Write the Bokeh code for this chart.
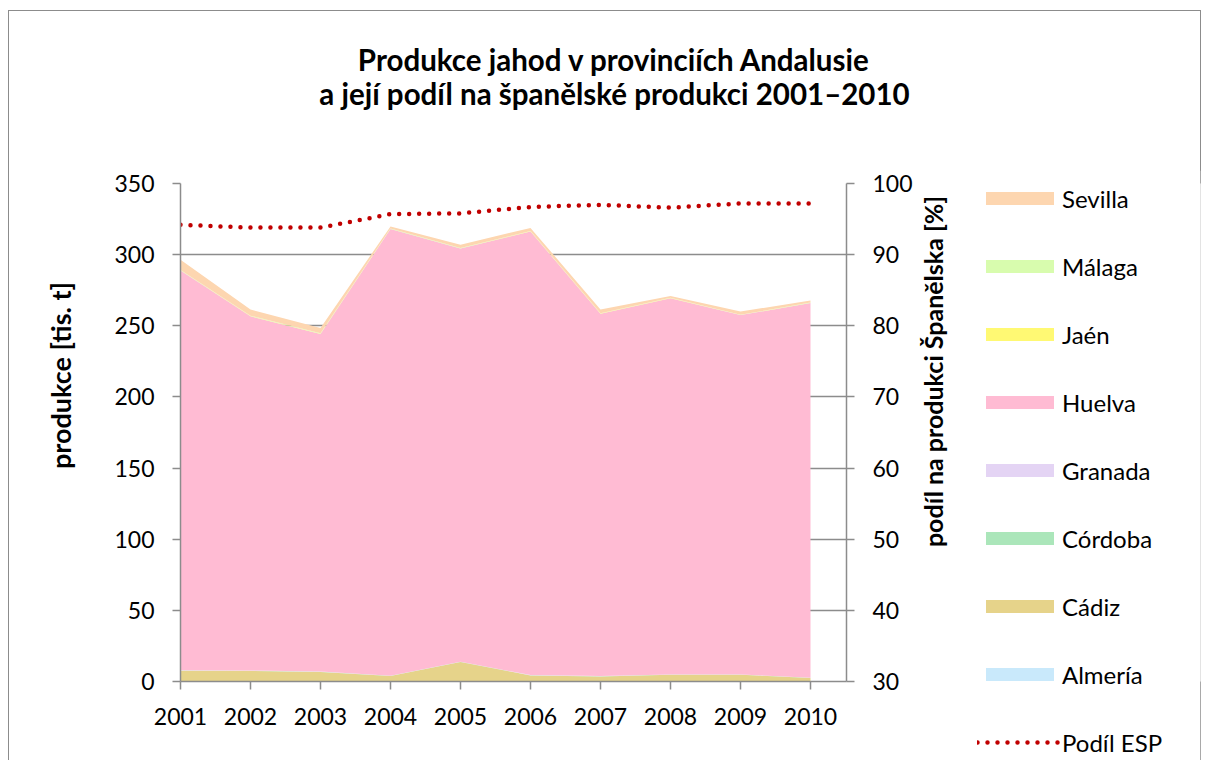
import math
from bokeh.plotting import figure
from bokeh.models import (Range1d, LinearAxis, FixedTicker, Legend, LegendItem,
                          Label, ColumnDataSource)
from bokeh.layouts import column, row
from bokeh.embed import file_html
from bokeh.resources import INLINE

# ---- data ----
years = [2001, 2002, 2003, 2004, 2005, 2006, 2007, 2008, 2009, 2010]
almeria = [0.2, 0.2, 0.2, 0.1, 0.1, 0.1, 0.1, 0.1, 0.1, 0.1]
cadiz = [7.5, 7.3, 6.5, 3.8, 13.6, 4.2, 3.5, 4.7, 4.7, 2.4]
cordoba = [0.1, 0.1, 0.1, 0.1, 0.1, 0.1, 0.1, 0.1, 0.1, 0.1]
granada = [0.2, 0.2, 0.2, 0.1, 0.1, 0.1, 0.1, 0.1, 0.1, 0.1]
huelva = [280.8, 248.9, 237.3, 313.9, 290.4, 311.8, 254.7, 264.4, 252.5, 263.3]
jaen = [0.1, 0.1, 0.1, 0.1, 0.1, 0.1, 0.1, 0.1, 0.1, 0.1]
malaga = [0.3, 0.3, 0.3, 0.2, 0.2, 0.2, 0.2, 0.2, 0.2, 0.2]
sevilla = [7.2, 4.3, 3.8, 1.5, 2.4, 2.2, 2.7, 1.3, 2.2, 1.5]
podil_esp = [94.2, 93.8, 93.8, 95.7, 95.8, 96.7, 97.0, 96.6, 97.2, 97.2]

provinces = ["Almería", "Cádiz", "Córdoba", "Granada", "Huelva", "Jaén", "Málaga", "Sevilla"]
series = [almeria, cadiz, cordoba, granada, huelva, jaen, malaga, sevilla]
colors = ["#C9E9FB", "#E6D38A", "#ABE6BA", "#E4D4F4", "#FFBBD3", "#FFF973", "#D8FCAE", "#FDD6B0"]
left_ticks = [0, 50, 100, 150, 200, 250, 300, 350]
right_ticks = [30, 40, 50, 60, 70, 80, 90, 100]

title1 = "Produkce jahod v provinciích Andalusie"
title2 = "a její podíl na španělské produkci 2001–2010"
ylabel_left = "produkce [tis. t]"
ylabel_right = "podíl na produkci Španělska [%]"
line_label = "Podíl ESP"

FONT = "Lato"
GRAY = "#8C8C8C"
LINE_RED = "#C00000"

keys = ["s%d" % i for i in range(len(provinces))]
data = {"year": years}
for k, s in zip(keys, series):
    data[k] = s
source = ColumnDataSource(data)

FRAME_H = 498  # plot-frame height shared by the figures of the row


def blank_fig(w, h, yr):
    f = figure(width=w, height=h, output_backend="svg", toolbar_location=None,
               x_range=Range1d(0, w), y_range=Range1d(0, yr),
               x_axis_type=None, y_axis_type=None, title_location=None,
               min_border=0)
    f.xgrid.visible = False
    f.ygrid.visible = False
    f.outline_line_color = None
    f.background_fill_color = "white"
    f.border_fill_color = "white"
    return f

# ---- title strip ----
T = blank_fig(1191, 159, 159)
T.add_layout(Label(x=605, y=111, text=title1, text_font=FONT, text_font_size="29.5px",
                   text_font_style="bold", text_align="center", text_baseline="alphabetic",
                   text_color="#000000"))
T.add_layout(Label(x=605, y=77, text=title2, text_font=FONT, text_font_size="29.5px",
                   text_font_style="bold", text_align="center", text_baseline="alphabetic",
                   text_color="#000000"))

# ---- left axis title strip (frame aligned with the chart frame) ----
L = blank_fig(100, 590, FRAME_H)
L.add_layout(Label(x=51, y=306, text=ylabel_left, text_font=FONT, text_font_size="27px",
                   text_font_style="bold", angle=math.pi / 2, text_align="center",
                   text_baseline="middle", text_color="#000000"))

# ---- main chart ----
p = figure(width=807, height=590, output_backend="svg", toolbar_location=None,
           x_range=Range1d(2001, 2001 + 666 / 70), y_range=Range1d(0, 350),
           title_location=None,
           min_border_left=71, min_border_top=13, min_border_right=70,
           min_border_bottom=79)
p.outline_line_color = None
p.background_fill_color = "white"
p.border_fill_color = "white"

p.varea_stack(stackers=keys, x="year", color=colors, source=source)

p.extra_y_ranges = {"pct": Range1d(30, 100)}
p.line(years, podil_esp, y_range_name="pct", line_color=LINE_RED,
       line_width=4.5, line_dash="0 10", line_cap="round")

p.xgrid.grid_line_color = None
p.ygrid.ticker = FixedTicker(ticks=left_ticks)
p.ygrid.grid_line_color = GRAY
p.ygrid.grid_line_width = 1.5

def style_axis(ax):
    ax.axis_line_color = GRAY
    ax.axis_line_width = 1.5
    ax.major_tick_line_color = GRAY
    ax.major_tick_line_width = 1.5
    ax.major_tick_out = 8
    ax.major_tick_in = 0
    ax.minor_tick_line_color = None
    ax.major_label_text_font = FONT
    ax.major_label_text_font_size = "23px"
    ax.major_label_text_color = "#000000"

style_axis(p.yaxis[0])
p.yaxis[0].ticker = FixedTicker(ticks=left_ticks)
p.yaxis[0].major_label_standoff = 18

style_axis(p.xaxis[0])
p.xaxis[0].ticker = FixedTicker(ticks=years)
p.xaxis[0].major_label_overrides = {y: str(y) for y in years}
p.xaxis[0].major_label_standoff = 18

raxis = LinearAxis(y_range_name="pct", ticker=FixedTicker(ticks=right_ticks))
style_axis(raxis)
raxis.major_label_standoff = 18
p.add_layout(raxis, "right")

# ---- right axis title strip ----
R1 = blank_fig(61, 590, FRAME_H)
R1.add_layout(Label(x=16, y=310, text=ylabel_right, text_font=FONT, text_font_size="25px",
                    text_font_style="bold", angle=math.pi / 2, text_align="center",
                    text_baseline="middle", text_color="#000000"))

# ---- legend strip (proxy renderers use the same data; they fall outside this view) ----
R2 = blank_fig(223, 590, FRAME_H)
legend_renderers = R2.varea_stack(stackers=keys, x="year", color=colors, source=source)
leg_line = R2.line(years, podil_esp, line_color=LINE_RED, line_width=4.5,
                   line_dash="0 10", line_cap="round")

items = []
for name, r in reversed(list(zip(provinces, legend_renderers))):
    items.append(LegendItem(label=name, renderers=[r]))
items.append(LegendItem(label=line_label, renderers=[leg_line]))
legend = Legend(items=items, location="top_left", orientation="vertical",
                glyph_width=85, glyph_height=16, label_height=30, spacing=38,
                padding=0, margin=0, border_line_color=None, background_fill_alpha=0,
                label_text_font=FONT, label_text_font_size="24px",
                label_text_color="#000000", label_standoff=0)
R2.add_layout(legend, "left")

layout = column(T, row(L, p, R1, R2))
layout.margin = (10, 0, 0, 8)
layout.styles = {"border-top": "1px solid #8C8C8C", "border-left": "1px solid #8C8C8C",
                 "border-right": "1px solid #8C8C8C"}

open("out.html", "w").write(file_html(layout, INLINE))
